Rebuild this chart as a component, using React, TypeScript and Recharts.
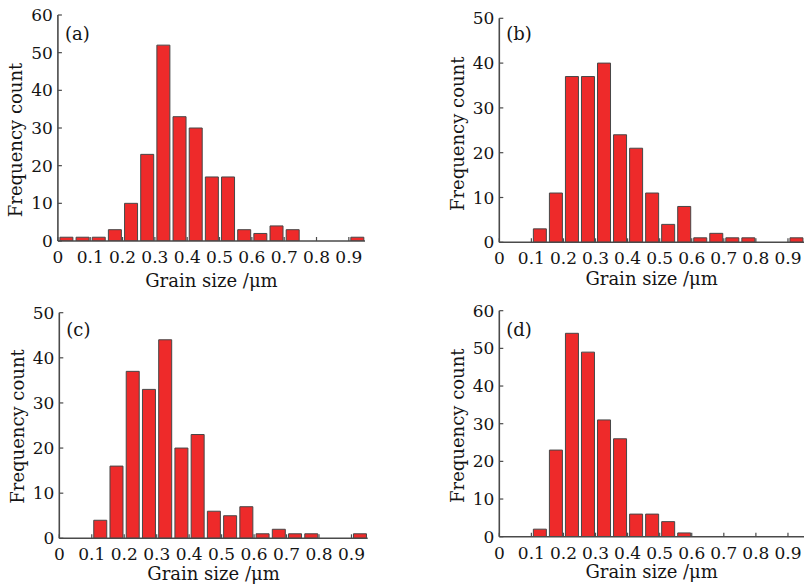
import React from 'react';
import { BarChart, Bar, XAxis, YAxis } from 'recharts';

// Bin centres (0.05 µm wide bins from 0 to 0.95 µm)
const binCenters = [0.025, 0.075, 0.125, 0.175, 0.225, 0.275, 0.325, 0.375, 0.425, 0.475, 0.525, 0.575, 0.625, 0.675, 0.725, 0.775, 0.825, 0.875, 0.925];

// Frequency counts per bin
const countsA = [1, 1, 1, 3, 10, 23, 52, 33, 30, 17, 17, 3, 2, 4, 3, 0, 0, 0, 1];
const countsB = [0, 0, 3, 11, 37, 37, 40, 24, 21, 11, 4, 8, 1, 2, 1, 1, 0, 0, 1];
const countsC = [0, 0, 4, 16, 37, 33, 44, 20, 23, 6, 5, 7, 1, 2, 1, 1, 0, 0, 1];
const countsD = [0, 0, 2, 23, 54, 49, 31, 26, 6, 6, 4, 1, 0, 0, 0, 0, 0, 0, 0];

const xTicks = [0, 0.1, 0.2, 0.3, 0.4, 0.5, 0.6, 0.7, 0.8, 0.9];
const yTicks60 = [0, 10, 20, 30, 40, 50, 60];
const yTicks50 = [0, 10, 20, 30, 40, 50];
const panelLetters = ['(a)', '(b)', '(c)', '(d)'];
const xTitle = 'Grain size /\u03bcm';
const yTitle = 'Frequency count';

const FONT = 'DejaVu Serif';
const TEXT = '#141414';
const FRAME = '#4a4a4a';
const BAR_FILL = '#ee2a2a';
const BAR_STROKE = '#474747';

type PanelCfg = {
  counts: number[];
  letter: string;
  yMax: number;
  yTicks: number[];
  boxLeft: number; boxTop: number; boxW: number; boxH: number;
  px1: number; px2: number; py1: number; py2: number;
  xTitleDy: number; yTitleDy: number; letterDy: number;
};

const panels: PanelCfg[] = [
  { counts: countsA, letter: panelLetters[0], yMax: 60, yTicks: yTicks60, boxLeft: 0, boxTop: 0, boxW: 400, boxH: 292,
    px1: 57.9, px2: 365, py1: 15, py2: 241, xTitleDy: 39, yTitleDy: 12, letterDy: 18 },
  { counts: countsB, letter: panelLetters[1], yMax: 50, yTicks: yTicks50, boxLeft: 400, boxTop: 0, boxW: 405, boxH: 292,
    px1: 499.3, px2: 804, py1: 18.3, py2: 242.3, xTitleDy: 36, yTitleDy: 3.5, letterDy: 15.5 },
  { counts: countsC, letter: panelLetters[2], yMax: 50, yTicks: yTicks50, boxLeft: 0, boxTop: 292, boxW: 400, boxH: 294,
    px1: 59.3, px2: 367.7, py1: 312.7, py2: 538.3, xTitleDy: 35, yTitleDy: 1, letterDy: 16.5 },
  { counts: countsD, letter: panelLetters[3], yMax: 60, yTicks: yTicks60, boxLeft: 400, boxTop: 292, boxW: 405, boxH: 294,
    px1: 499.3, px2: 804, py1: 310.7, py2: 536.7, xTitleDy: 35, yTitleDy: 2, letterDy: 19 },
];

const Y_AXIS_W = 50;
const X_AXIS_H = 30;

function Panel({ cfg }: { cfg: PanelCfg }) {
  const data = binCenters.map((x, i) => ({ x, count: cfg.counts[i] }));
  const margin = {
    left: cfg.px1 - cfg.boxLeft - Y_AXIS_W,
    right: cfg.boxLeft + cfg.boxW - cfg.px2,
    top: cfg.py1 - cfg.boxTop,
    bottom: cfg.boxTop + cfg.boxH - cfg.py2 - X_AXIS_H,
  };
  // local plot coordinates
  const lx1 = cfg.px1 - cfg.boxLeft;
  const lx2 = cfg.px2 - cfg.boxLeft;
  const ly1 = cfg.py1 - cfg.boxTop;
  const ly2 = cfg.py2 - cfg.boxTop;

  const titles = () => {
    const ycx = lx1 - 42;
    const ycy = (ly1 + ly2) / 2 + cfg.yTitleDy;
    return (
      <g>
        <text x={ycx} y={ycy} transform={`rotate(-90 ${ycx} ${ycy})`} textAnchor="middle" dominantBaseline="central"
          style={{ fontFamily: FONT, fontSize: 18 }} fill={TEXT}>{yTitle}</text>
        <text x={(lx1 + lx2) / 2} y={ly2 + cfg.xTitleDy} textAnchor="middle" dominantBaseline="central"
          style={{ fontFamily: FONT, fontSize: 18 }} fill={TEXT}>{xTitle}</text>
        <text x={lx1 + 7} y={ly1 + cfg.letterDy} textAnchor="start" dominantBaseline="central"
          style={{ fontFamily: FONT, fontSize: 18 }} fill={TEXT}>{cfg.letter}</text>
      </g>
    );
  };

  const tickStyle = { fill: TEXT, fontSize: 17, fontFamily: FONT };
  const axisLine = { stroke: FRAME, strokeWidth: 1.6 };
  const tickLine = { stroke: FRAME, strokeWidth: 1.2 };

  return (
    <div style={{ position: 'absolute', left: cfg.boxLeft, top: cfg.boxTop }}>
      <BarChart width={cfg.boxW} height={cfg.boxH} data={data} margin={margin}>
        <XAxis dataKey="x" type="number" domain={[0, 0.95]} ticks={xTicks} height={X_AXIS_H}
          tickFormatter={(v: number) => String(v)} tick={tickStyle} tickSize={-4} tickMargin={14}
          axisLine={axisLine} tickLine={tickLine} interval={0} allowDataOverflow />
        <XAxis xAxisId="top" orientation="top" dataKey="x" type="number" domain={[0, 0.95]} height={0}
          tick={false} tickLine={false} axisLine={axisLine} allowDataOverflow />
        <YAxis type="number" domain={[0, cfg.yMax]} ticks={cfg.yTicks} width={Y_AXIS_W} tick={tickStyle}
          tickSize={-4} tickMargin={9} axisLine={axisLine} tickLine={tickLine} interval={0}
          allowDataOverflow label={titles} />
        <YAxis yAxisId="right" orientation="right" type="number" domain={[0, cfg.yMax]} width={0}
          tick={false} tickLine={false} axisLine={axisLine} allowDataOverflow />
        <Bar dataKey="count" fill={BAR_FILL} stroke={BAR_STROKE} strokeWidth={1} barSize={13}
          isAnimationActive={false} />
      </BarChart>
    </div>
  );
}

export default function App() {
  return (
    <div style={{ position: 'absolute', left: 0, top: 0, width: 805, height: 586, background: '#ffffff', overflow: 'hidden' }}>
      {panels.map((p) => (
        <Panel key={p.letter} cfg={p} />
      ))}
    </div>
  );
}
